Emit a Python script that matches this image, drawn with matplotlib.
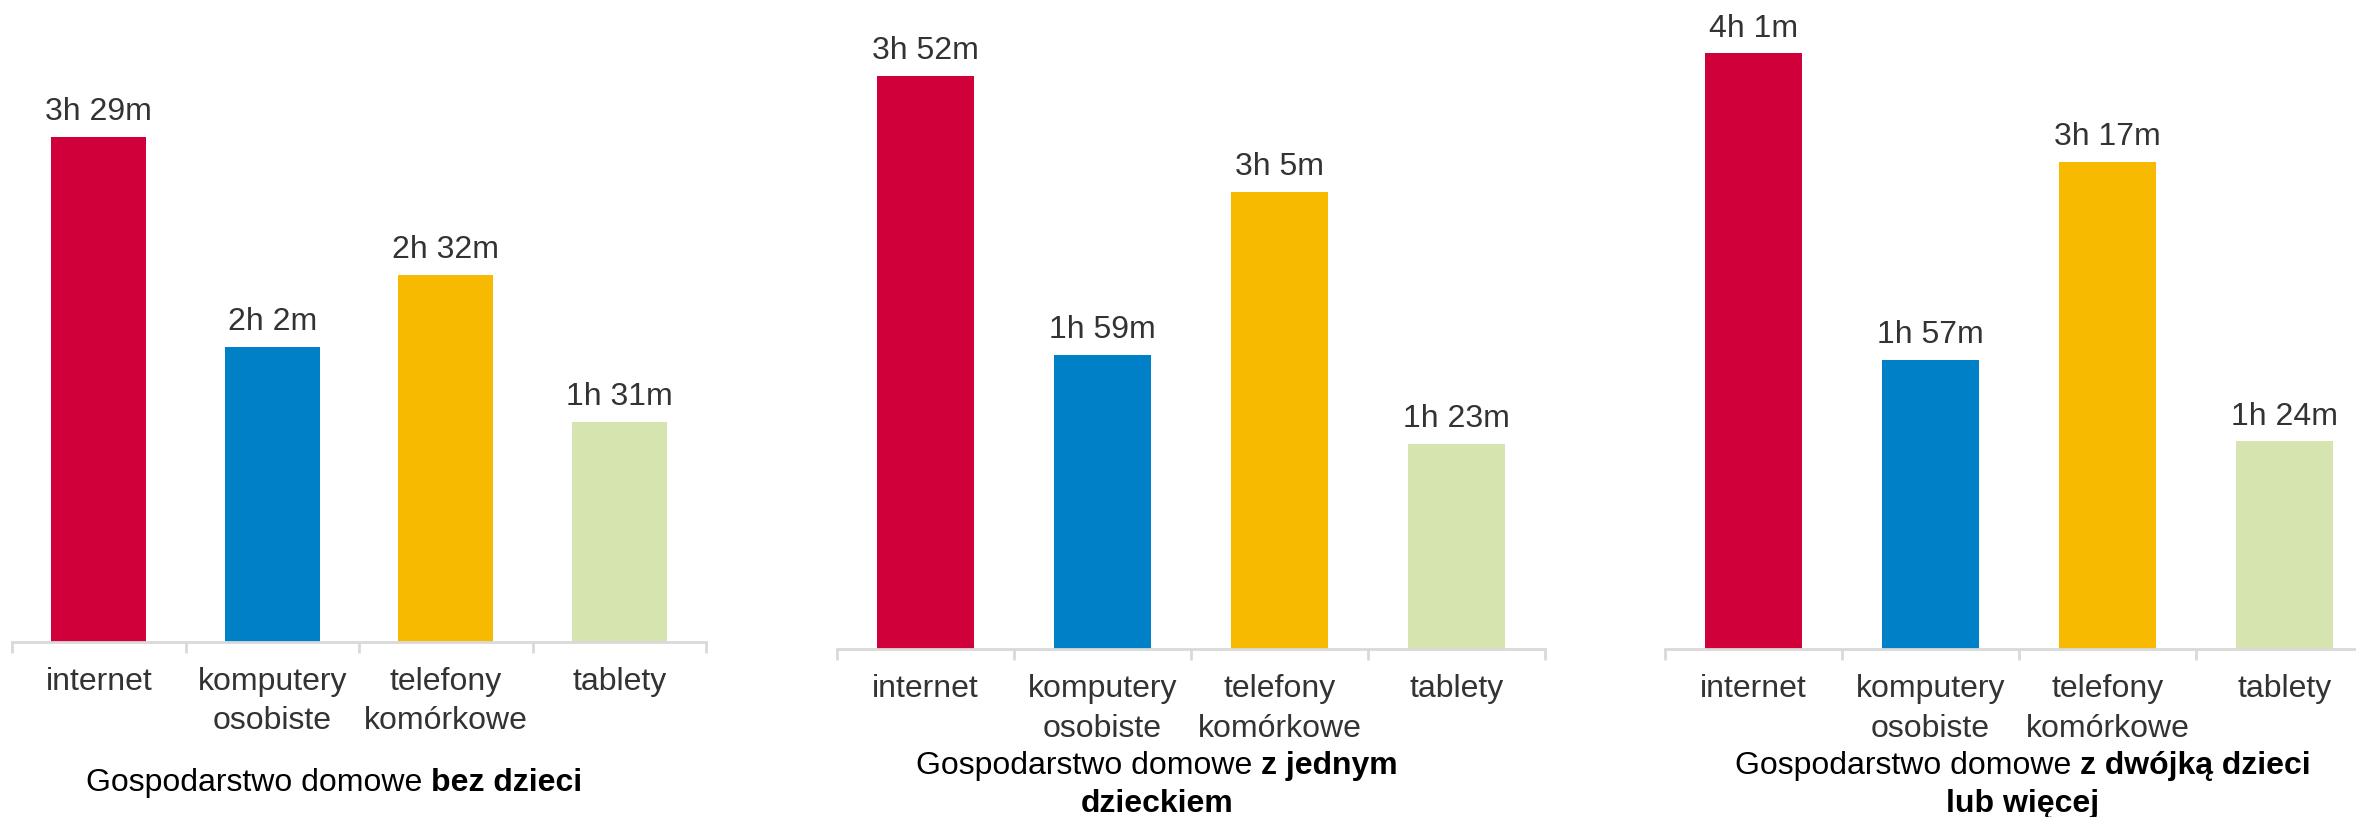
import matplotlib
matplotlib.use('Agg')
import matplotlib.pyplot as plt

plt.rcParams['font.family'] = ['Liberation Sans', 'DejaVu Sans']

# Dane: średni czas dziennie (minuty)
kategorie = ['internet', 'komputery\nosobiste', 'telefony\nkomórkowe', 'tablety']
bez_dzieci = [209, 122, 152, 91]
jedno_dziecko = [232, 119, 185, 83]
dwoje_dzieci = [241, 117, 197, 84]
kolory = ['#D0003A', '#0080C6', '#F8BA00', '#D6E4B0']

tytuly = [
    [[('Gospodarstwo domowe ', 'normal'), ('bez dzieci', 'bold')]],
    [[('Gospodarstwo domowe ', 'normal'), ('z jednym', 'bold')],
     [('dzieckiem', 'bold')]],
    [[('Gospodarstwo domowe ', 'normal'), ('z dwójką dzieci', 'bold')],
     [('lub więcej', 'bold')]],
]

W, H = 2356, 817
fig = plt.figure(figsize=(W / 100, H / 100), dpi=100)

# pozycje paneli w pikselach: lewa, szerokość, linia osi, góra, ymax
panele = [
    (12, 694, 641.6, 20, 257.4),
    (837, 708, 649, 20, 254.5),
    (1665, 708, 649, 20, 254.5),
]
dane = [bez_dzieci, jedno_dziecko, dwoje_dzieci]


def fmt(m):
    return f'{m // 60}h {m % 60}m'


for (lewa, szer, dol, gora, ymax), wart in zip(panele, dane):
    ax = fig.add_axes([lewa / W, (H - dol) / H, szer / W, (dol - gora) / H])
    x = range(len(kategorie))
    bars = ax.bar(x, wart, width=0.55, color=kolory)
    for b, v in zip(bars, wart):
        ax.annotate(fmt(v), (b.get_x() + b.get_width() / 2, v),
                    xytext=(0, 7), textcoords='offset points',
                    ha='center', va='bottom', fontsize=23, color='#333333')
    ax.set_xlim(-0.5, 3.5)
    ax.set_ylim(0, ymax)
    for s in ['top', 'right', 'left']:
        ax.spines[s].set_visible(False)
    ax.spines['bottom'].set_color('#D9D9D9')
    ax.spines['bottom'].set_linewidth(2)
    ax.set_yticks([])
    ax.set_xticks(list(x))
    ax.set_xticklabels(kategorie, fontsize=23, color='#333333', linespacing=1.42)
    ax.tick_params(axis='x', which='major', length=0, pad=18)
    ax.set_xticks([-0.5, 0.5, 1.5, 2.5, 3.5], minor=True)
    ax.tick_params(axis='x', which='minor', length=8, width=2, color='#D9D9D9')

# podpisy paneli z pogrubionym fragmentem
centra = [334, 1157, 2023]
wiersze_y = [[783], [766, 804], [766, 804]]
rozm = 23
r = fig.canvas.get_renderer()
for cx, tyt, ys in zip(centra, tytuly, wiersze_y):
    for wiersz, yy in zip(tyt, ys):
        teksty = []
        for txt, waga in wiersz:
            t = fig.text(0, 1 - yy / H, txt.rstrip(), fontsize=rozm,
                         fontweight=waga, color='black', va='center', ha='left')
            teksty.append((t, txt.endswith(' ')))
        spacja = 0.278 * rozm * 100 / 72
        szer = [t.get_window_extent(r).width for t, _ in teksty]
        calosc = sum(szer) + sum(spacja for _, sp in teksty if sp)
        xx = cx - calosc / 2
        for (t, sp), w in zip(teksty, szer):
            t.set_x(xx / W)
            xx += w + (spacja if sp else 0)

fig.savefig('out.png', dpi=100)
